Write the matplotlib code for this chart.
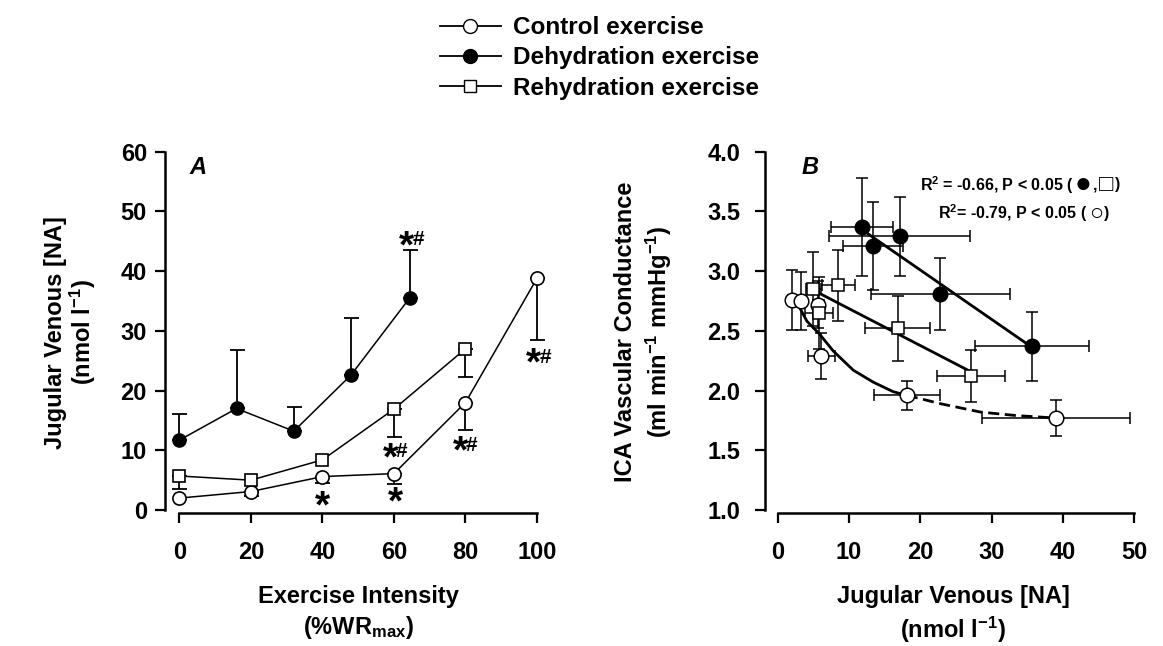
import matplotlib
matplotlib.use("Agg")
import matplotlib.pyplot as plt
from matplotlib.lines import Line2D
from matplotlib.offsetbox import TextArea, HPacker, AnchoredOffsetbox

plt.rcParams["font.family"] = ["Liberation Sans", "DejaVu Sans"]
plt.rcParams["font.weight"] = "bold"
plt.rcParams["mathtext.default"] = "regular"

# ---- panel A: NA vs exercise intensity ----
dehy_x = [0, 16, 32, 48, 64.4]
dehy_y = [11.7, 17.0, 13.2, 22.6, 35.5]
dehy_up = [4.4, 9.8, 4.1, 9.6, 8.0]

rehy_x = [0, 20, 40, 60, 80]
rehy_y = [5.7, 5.0, 8.4, 16.9, 27.0]
rehy_dn = [2.2, 0, 0, 4.6, 4.8]

ctrl_x = [0, 20, 40, 60, 80, 100]
ctrl_y = [2.0, 3.1, 5.6, 6.1, 18.0, 38.8]
ctrl_dn = [0, 0.7, 1.0, 1.8, 4.6, 10.3]

# significance marks (centre of the star)
ann_x = [63.6, 58.9, 78.5, 99.0, 40.1, 60.3]
ann_y = [45.8, 10.3, 11.4, 26.2, 2.3, 2.9]
ann_hash = [True, True, True, True, False, False]

# ---- panel B: conductance vs NA ----
b_dehy_x = [11.8, 13.4, 17.1, 22.8, 35.7]
b_dehy_y = [3.37, 3.21, 3.29, 2.81, 2.37]
b_dehy_xe = [4.3, 4.2, 9.9, 9.7, 8.0]
b_dehy_ye = [0.41, 0.37, 0.33, 0.30, 0.29]

b_rehy_x = [5.0, 8.5, 5.8, 16.8, 27.1]
b_rehy_y = [2.85, 2.88, 2.65, 2.52, 2.12]
b_rehy_xe = [1.0, 2.3, 2.0, 4.5, 4.75]
b_rehy_ye = [0.31, 0.30, 0.30, 0.27, 0.22]

b_ctrl_x = [2.0, 3.3, 5.7, 6.1, 18.1, 39.0]
b_ctrl_y = [2.76, 2.75, 2.72, 2.29, 1.96, 1.77]
b_ctrl_xe = [0.5, 0.6, 0.8, 1.9, 4.6, 10.4]
b_ctrl_ye = [0.25, 0.24, 0.20, 0.19, 0.12, 0.15]

fit_dehy_x = [12.7, 35.7]
fit_dehy_y = [3.31, 2.36]
fit_rehy_x = [5.0, 27.0]
fit_rehy_y = [2.84, 2.16]
fit_ctrl_x = [2.2, 4.1, 5.9, 7.8, 10.6, 13.4, 16.2, 18.1]
fit_ctrl_y = [2.79, 2.58, 2.47, 2.33, 2.17, 2.07, 1.99, 1.96]
dash_ctrl_x = [18.1, 22.8, 28.4, 33.5, 39.0]
dash_ctrl_y = [1.96, 1.89, 1.82, 1.79, 1.77]

FS = 17

fig = plt.figure(figsize=(11.63, 6.46), dpi=100)
axA = fig.add_axes([0.1419, 0.2063, 0.326, 0.559])
axB = fig.add_axes([0.6578, 0.2063, 0.3206, 0.559])


def style(ax, ypad):
    for s in ["top", "right"]:
        ax.spines[s].set_visible(False)
    for s in ["left", "bottom"]:
        ax.spines[s].set_linewidth(1.8)
    ax.tick_params(width=1.6, length=7.2, labelsize=FS)
    ax.tick_params(axis="x", pad=13)
    ax.tick_params(axis="y", pad=ypad)
    for lab in ax.get_xticklabels() + ax.get_yticklabels():
        lab.set_fontweight("bold")


# panel A
def err_one_side(ax, x, y, e, upper):
    xs = [a for a, b in zip(x, e) if b > 0]
    ys = [a for a, b in zip(y, e) if b > 0]
    es = [b for b in e if b > 0]
    if upper:
        yerr = [[0] * len(es), es]
    else:
        yerr = [es, [0] * len(es)]
    ax.errorbar(xs, ys, yerr=yerr, fmt="none", ecolor="black", elinewidth=1.3,
                capsize=5.4, capthick=1.3, zorder=2)


err_one_side(axA, dehy_x, dehy_y, dehy_up, True)
err_one_side(axA, rehy_x, rehy_y, rehy_dn, False)
err_one_side(axA, ctrl_x, ctrl_y, ctrl_dn, False)
axA.plot(ctrl_x, ctrl_y, "-o", color="black", lw=1.1, ms=9.5, mfc="white",
         mec="black", mew=1.2, zorder=3)
axA.plot(rehy_x, rehy_y, "-s", color="black", lw=1.1, ms=8.5, mfc="white",
         mec="black", mew=1.2, zorder=4)
axA.plot(dehy_x, dehy_y, "-o", color="black", lw=1.1, ms=9.5, mfc="black",
         mec="black", zorder=5)
for x, y, h in zip(ann_x, ann_y, ann_hash):
    axA.annotate("*", (x, y), xytext=(0, -15), textcoords="offset points",
                 ha="center", va="baseline", fontsize=28, fontweight="bold")
    if h:
        axA.annotate("#", (x, y), xytext=(8.5, -2.5), textcoords="offset points",
                     ha="center", va="center", fontsize=15, fontweight="bold")
axA.text(5.2, 57.4, "A", fontsize=FS, fontweight="bold", style="italic",
         ha="center", va="center")
axA.set_xlim(-4, 102)
axA.set_ylim(-0.45, 60)
axA.set_xticks(range(0, 101, 20))
axA.set_yticks(range(0, 61, 10))
axA.spines["left"].set_bounds(0, 60)
axA.spines["bottom"].set_bounds(0, 100)
style(axA, 5.8)
axA.set_xlabel("Exercise Intensity\n(%WR$_{max}$)", fontsize=FS,
               fontweight="bold", linespacing=1.3)
axA.set_ylabel("Jugular Venous [NA]\n(nmol l$^{-1}$)", fontsize=FS,
               fontweight="bold", linespacing=1.05)
axA.xaxis.set_label_coords(0.509, -0.200)
axA.yaxis.set_label_coords(-0.177, 0.5)

# panel B
ebk = dict(fmt="none", ecolor="black", elinewidth=1.1, capsize=4.3, capthick=1.1,
           zorder=2)
axB.errorbar(b_ctrl_x, b_ctrl_y, xerr=b_ctrl_xe, yerr=b_ctrl_ye, **ebk)
axB.errorbar(b_rehy_x, b_rehy_y, xerr=b_rehy_xe, yerr=b_rehy_ye, **ebk)
axB.errorbar(b_dehy_x, b_dehy_y, xerr=b_dehy_xe, yerr=b_dehy_ye, **ebk)
axB.plot(fit_dehy_x, fit_dehy_y, color="black", lw=2, zorder=3)
axB.plot(fit_rehy_x, fit_rehy_y, color="black", lw=2, zorder=3)
axB.plot(fit_ctrl_x, fit_ctrl_y, color="black", lw=2, zorder=3)
axB.plot(dash_ctrl_x, dash_ctrl_y, color="black", lw=2, ls=(0, (4, 2)), zorder=3)
axB.plot(b_ctrl_x, b_ctrl_y, "o", ms=10.5, mfc="white", mec="black", mew=1.1,
         zorder=4)
axB.plot(b_rehy_x, b_rehy_y, "s", ms=9, mfc="white", mec="black", mew=1.1,
         zorder=5)
axB.plot(b_dehy_x, b_dehy_y, "o", ms=10.5, mfc="black", mec="black", zorder=6)
axB.text(4.5, 3.87, "B", fontsize=FS, fontweight="bold", style="italic",
         ha="center", va="center")


def stat_line(parts, anchor):
    kids = []
    for txt, size in parts:
        kids.append(TextArea(txt, textprops=dict(
            fontsize=size, fontweight="bold",
            family=["Liberation Sans", "DejaVu Sans"])))
    box = HPacker(children=kids, align="center", pad=0, sep=1)
    ab = AnchoredOffsetbox(loc="center right", child=box, pad=0, borderpad=0,
                           frameon=False, bbox_to_anchor=anchor,
                           bbox_transform=fig.transFigure)
    fig.add_artist(ab)


stat_line([("R$^2$ = -0.66, P < 0.05 (", 11.5), ("\u25cf", 20), (",", 11.5),
           ("\u25a1", 17), (")", 11.5)], (0.963, 0.714))
stat_line([("R$^2$= -0.79, P < 0.05 (", 11.5), ("\u25cb", 17), (")", 11.5)],
          (0.954, 0.670))

axB.set_xlim(-1.78, 50.5)
axB.set_ylim(0.977, 4.0)
axB.set_xticks(range(0, 51, 10))
axB.set_yticks([1.0, 1.5, 2.0, 2.5, 3.0, 3.5, 4.0])
axB.set_yticklabels(["1.0", "1.5", "2.0", "2.5", "3.0", "3.5", "4.0"])
axB.spines["left"].set_bounds(1.0, 4.0)
axB.spines["bottom"].set_bounds(0, 50)
style(axB, 10.8)
axB.set_xlabel("Jugular Venous [NA]\n(nmol l$^{-1}$)", fontsize=FS,
               fontweight="bold", linespacing=1.3)
axB.set_ylabel("ICA Vascular Conductance\n(ml min$^{-1}$ mmHg$^{-1}$)",
               fontsize=FS, fontweight="bold", linespacing=1.3)
axB.xaxis.set_label_coords(0.504, -0.200)
axB.yaxis.set_label_coords(-0.244, 0.5)

# legend
handles = [
    Line2D([], [], color="black", lw=1.3, marker="o", ms=10, mfc="white",
           mec="black"),
    Line2D([], [], color="black", lw=1.3, marker="o", ms=10, mfc="black",
           mec="black"),
    Line2D([], [], color="black", lw=1.3, marker="s", ms=9, mfc="white",
           mec="black"),
]
labels = ["Control exercise", "Dehydration exercise", "Rehydration exercise"]
leg = fig.legend(handles, labels, loc="upper left", bbox_to_anchor=(0.370, 0.990),
                 frameon=False, fontsize=17.5, handlelength=2.5,
                 handletextpad=0.5, labelspacing=0.3, borderaxespad=0)
for t in leg.get_texts():
    t.set_fontweight("bold")

fig.savefig("out.png", dpi=100)
